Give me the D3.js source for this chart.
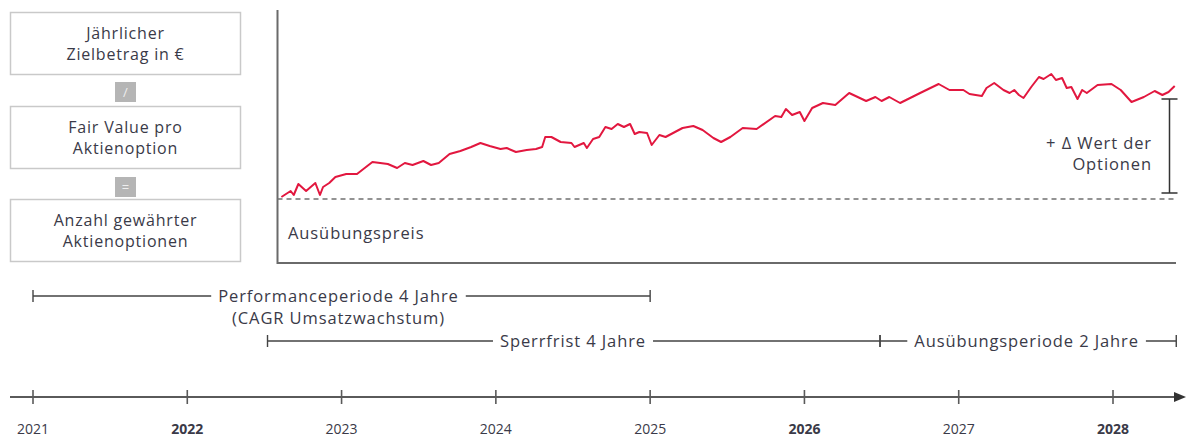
<!DOCTYPE html>
<html>
<head>
<meta charset="utf-8">
<script src="https://cdn.jsdelivr.net/npm/d3@7"></script>
<style>
  body { margin: 0; background: #fff; }
  svg text { font-family: "Open Sans", sans-serif; fill: #3a3a48; }
  .lbl { font-size: 16.5px; letter-spacing: 0.9px; }
</style>
</head>
<body>
<svg id="chart" width="1186" height="437"></svg>
<script>
// years on the timeline
var years = [2021, 2022, 2023, 2024, 2025, 2026, 2027, 2028];
var boldYears = [2022, 2026, 2028];

// share price path (x in years, y relative to the exercise price)
var priceX = [2022.61, 2022.67, 2022.69, 2022.72, 2022.77, 2022.83, 2022.86, 2022.88, 2022.92, 2022.96,
  2023.03, 2023.10, 2023.20, 2023.25, 2023.30, 2023.36, 2023.41, 2023.46, 2023.53, 2023.58,
  2023.63, 2023.70, 2023.77, 2023.84, 2023.90, 2023.96, 2024.03, 2024.07, 2024.13, 2024.20,
  2024.26, 2024.30, 2024.32, 2024.36, 2024.42, 2024.49, 2024.51, 2024.57, 2024.59, 2024.63,
  2024.67, 2024.71, 2024.75, 2024.79, 2024.83, 2024.87, 2024.90, 2024.93, 2024.98, 2025.01,
  2025.06, 2025.10, 2025.21, 2025.28, 2025.34, 2025.41, 2025.46, 2025.52, 2025.60, 2025.69,
  2025.81, 2025.85, 2025.88, 2025.92, 2025.97, 2026.00, 2026.05, 2026.12, 2026.20, 2026.29,
  2026.40, 2026.46, 2026.50, 2026.55, 2026.62, 2026.75, 2026.87, 2026.94, 2027.03, 2027.07,
  2027.15, 2027.18, 2027.23, 2027.29, 2027.33, 2027.36, 2027.39, 2027.42, 2027.47, 2027.52,
  2027.55, 2027.60, 2027.63, 2027.67, 2027.70, 2027.73, 2027.77, 2027.80, 2027.83, 2027.90,
  2027.99, 2028.05, 2028.12, 2028.20, 2028.27, 2028.32, 2028.36, 2028.40];
var priceY = [2, 8, 4, 15, 8, 16, 4, 12, 16, 22,
  25, 25, 37, 36, 35, 31, 36, 34, 38, 34,
  36, 45, 48, 52, 56, 53, 50, 51, 47, 49,
  50, 52, 62, 62, 57, 56, 52, 56, 51, 60,
  62, 72, 70, 75, 72, 75, 65, 67, 66, 54,
  64, 62, 71, 73, 69, 61, 57, 62, 71, 70,
  83, 82, 90, 84, 87, 78, 91, 96, 94, 106,
  98, 102, 98, 102, 96, 106, 115, 109, 109, 105,
  103, 111, 116, 109, 106, 109, 104, 101, 112, 122,
  120, 125, 119, 121, 111, 112, 100, 109, 106, 114,
  115, 109, 97, 102, 108, 104, 107, 113];

// formula boxes on the left
var boxLines = [["Jährlicher", "Zielbetrag in €"], ["Fair Value pro", "Aktienoption"], ["Anzahl gewährter", "Aktienoptionen"]];
var operators = ["/", "="];

// periods below the chart
var periods = [
  {start: 2021, end: 2025, lines: ["Performanceperiode 4 Jahre", "(CAGR Umsatzwachstum)"], row: 0, labelAt: 2022.98},
  {start: 2022.52, end: 2026.49, lines: ["Sperrfrist 4 Jahre"], row: 1, labelAt: 2024.50},
  {start: 2026.49, end: 2028.41, lines: ["Ausübungsperiode 2 Jahre"], row: 1, labelAt: 2027.44}
];

var bracketTop = 100, bracketBottom = 6;

var svg = d3.select("#chart");
var red = "#e2173f";
var axisGrey = "#5a5a5a";

var x = d3.scaleLinear().domain([2021, 2028]).range([33, 1113]);
var y = d3.scaleLinear().domain([-64, 189]).range([263, 10]);

// ---- formula boxes
var boxTop = [12, 106, 199];
boxLines.forEach(function(lines, i) {
    svg.append("rect")
        .attr("x", 10.5).attr("y", boxTop[i] + 0.5)
        .attr("width", 230).attr("height", 62)
        .attr("fill", "#fff").attr("stroke", "#c9c9c9").attr("stroke-width", 1.5);
    lines.forEach(function(t, j) {
        svg.append("text")
            .attr("x", 125.5).attr("y", boxTop[i] + 26.5 + j * 21)
            .attr("text-anchor", "middle")
            .style("font-size", "16px").style("letter-spacing", "0.8px")
            .text(t);
    });
});
operators.forEach(function(op, i) {
    var top = i === 0 ? 82 : 177;
    svg.append("rect")
        .attr("x", 115).attr("y", top).attr("width", 21).attr("height", 20)
        .attr("fill", "#b5b5b5");
    svg.append("text")
        .attr("x", 125.5).attr("y", top + 15)
        .attr("text-anchor", "middle")
        .style("font-size", "13px").style("fill", "#eee")
        .text(op);
});

// ---- chart frame
var x0 = 277.5, xEnd = 1176;
svg.append("path")
    .attr("d", "M" + x0 + "," + y(189) + "V" + y(-64) + "H" + xEnd)
    .attr("fill", "none").attr("stroke", "#6a6a6a").attr("stroke-width", 2);

// exercise price
svg.append("line")
    .attr("x1", x0).attr("x2", xEnd)
    .attr("y1", y(0)).attr("y2", y(0))
    .attr("stroke", "#707070").attr("stroke-width", 1.6)
    .attr("stroke-dasharray", "5,4");

svg.append("text")
    .attr("class", "lbl")
    .attr("x", 288).attr("y", 239)
    .text("Ausübungspreis");

// price line
var pts = priceX.map(function(d, i) { return [d, priceY[i]]; });
svg.append("path")
    .datum(pts)
    .attr("d", d3.line().x(function(d) { return x(d[0]); }).y(function(d) { return y(d[1]); }))
    .attr("fill", "none").attr("stroke", red).attr("stroke-width", 2)
    .attr("stroke-linejoin", "round");

// value bracket
var bx = 1169.5;
svg.append("path")
    .attr("d", "M" + (bx - 8) + "," + y(bracketTop) + "H" + (bx + 8) +
        "M" + bx + "," + y(bracketTop) + "V" + y(bracketBottom) +
        "M" + (bx - 8) + "," + y(bracketBottom) + "H" + (bx + 8))
    .attr("fill", "none").attr("stroke", "#333").attr("stroke-width", 1.5);
["+ Δ Wert der", "Optionen"].forEach(function(t, i) {
    svg.append("text")
        .attr("class", "lbl")
        .attr("x", 1152).attr("y", 149 + i * 21)
        .attr("text-anchor", "end")
        .text(t);
});

// ---- periods
var rowY = [296, 341];
periods.forEach(function(p) {
    var yy = rowY[p.row];
    var g = svg.append("g");
    var txt = g.selectAll("text").data(p.lines).enter().append("text")
        .attr("class", "lbl")
        .attr("x", x(p.labelAt))
        .attr("y", function(d, i) { return yy + 5.5 + i * 22; })
        .attr("text-anchor", "middle")
        .text(function(d) { return d; });
    var w = txt.nodes()[0].getComputedTextLength();
    var gap = 7;
    var l = x(p.labelAt) - w / 2 - gap, r = x(p.labelAt) + w / 2 + gap;
    g.append("path")
        .attr("d", "M" + x(p.start) + "," + yy + "H" + l + "M" + r + "," + yy + "H" + x(p.end) +
            "M" + x(p.start) + "," + (yy - 6) + "V" + (yy + 6) +
            "M" + x(p.end) + "," + (yy - 6) + "V" + (yy + 6))
        .attr("fill", "none").attr("stroke", "#444").attr("stroke-width", 1.4);
});

// ---- timeline
var ty = 397;
svg.append("line")
    .attr("x1", 10).attr("x2", 1176)
    .attr("y1", ty).attr("y2", ty)
    .attr("stroke", axisGrey).attr("stroke-width", 2);
svg.append("path")
    .attr("d", "M1186," + ty + "L1174," + (ty - 5) + "L1174," + (ty + 5) + "Z")
    .attr("fill", "#333");

svg.selectAll(".tick").data(years).enter().append("line")
    .attr("class", "tick")
    .attr("x1", function(d) { return x(d); }).attr("x2", function(d) { return x(d); })
    .attr("y1", ty - 7).attr("y2", ty + 7)
    .attr("stroke", axisGrey).attr("stroke-width", 1.6);

svg.selectAll(".yearLabel").data(years).enter().append("text")
    .attr("class", "yearLabel")
    .attr("x", function(d) { return x(d); })
    .attr("y", 434)
    .attr("text-anchor", "middle")
    .style("font-size", "14px")
    .style("font-weight", function(d) { return boldYears.indexOf(d) >= 0 ? "700" : "400"; })
    .text(function(d) { return d; });
</script>
</body>
</html>
